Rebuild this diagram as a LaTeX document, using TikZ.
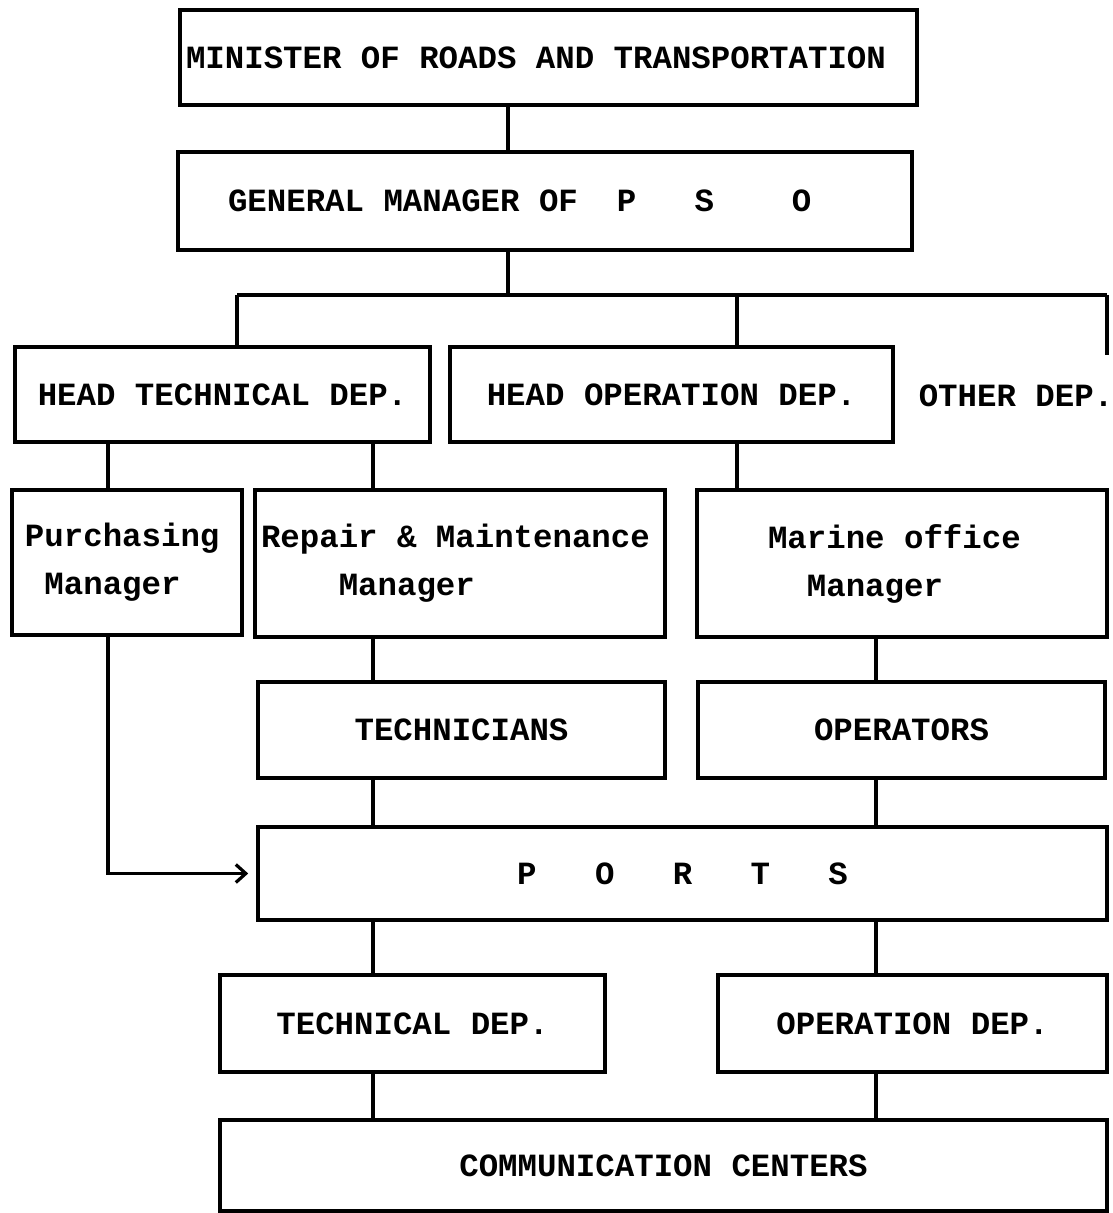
\documentclass[tikz,border=0pt]{standalone}
\usepackage{fontspec}
\setmonofont{Liberation Mono}
\usepackage{tikz}
\usetikzlibrary{arrows.meta}
\tikzstyle{orgbox} = [draw=black, line width=1.8pt, rectangle, inner sep=0pt, align=center, font=\ttfamily\bfseries\fontsize{16.2}{24}\selectfont]
\tikzstyle{link} = [draw=black, line width=1.6pt]

\begin{document}
\begin{tikzpicture}[x=0.5pt, y=-0.5pt]
	\useasboundingbox (0,0) rectangle (1112,1213);
	% columns and rows of the connectors
	\coordinate (c1) at (108,0);
	\coordinate (c2) at (237,0);
	\coordinate (c3) at (373,0);
	\coordinate (c4) at (508,0);
	\coordinate (c5) at (737,0);
	\coordinate (c6) at (876,0);
	\coordinate (c7) at (1107,0);
	\coordinate (bus) at (0,295);
	\coordinate (otherend) at (0,355);

	\node [orgbox, minimum width=368.5pt, minimum height=47.5pt] (minister) at (548.5,57.5) {\makebox[362.5pt][l]{MINISTER OF ROADS AND TRANSPORTATION}};
	\node [orgbox, minimum width=367pt, minimum height=49pt] (gm) at (545,201) {\makebox[317pt][l]{GENERAL MANAGER OF~~P~~~S~~~~O}};

	\node [orgbox, minimum width=207.5pt, minimum height=47.5pt] (headtech) at (222.5,394.5) {HEAD TECHNICAL DEP.};
	\node [orgbox, minimum width=221.5pt, minimum height=47.5pt] (headop) at (671.5,394.5) {HEAD OPERATION DEP.};
	\node [font=\ttfamily\bfseries\fontsize{16.2}{24}\selectfont, inner sep=0pt] (other) at (1016,396) {OTHER DEP.};

	\node [orgbox, minimum width=115pt, minimum height=72.5pt] (purch) at (127,562.5) {\makebox[102pt][l]{Purchasing}\\\makebox[102pt][l]{~Manager}};
	\node [orgbox, minimum width=205pt, minimum height=73.5pt] (repair) at (460,563.5) {\makebox[199pt][l]{Repair \& Maintenance}\\\makebox[199pt][l]{~~~~Manager}};
	\node [orgbox, minimum width=205pt, minimum height=73.5pt] (marine) at (902,563.5) {\makebox[134pt][l]{Marine office}\\\makebox[134pt][l]{~~Manager}};

	\node [orgbox, minimum width=203.5pt, minimum height=48pt] (tech) at (461.5,730) {TECHNICIANS};
	\node [orgbox, minimum width=203.5pt, minimum height=48pt] (oper) at (901.5,730) {OPERATORS};

	\node [orgbox, minimum width=424.5pt, minimum height=46.5pt] (ports) at (682.5,873.5) {P~~~O~~~R~~~T~~~S};

	\node [orgbox, minimum width=192.5pt, minimum height=48.5pt] (techdep) at (412.5,1023.5) {TECHNICAL DEP.};
	\node [orgbox, minimum width=194.5pt, minimum height=48.5pt] (opdep) at (912.5,1023.5) {OPERATION DEP.};

	\node [orgbox, minimum width=443.5pt, minimum height=45.5pt] (comm) at (663.5,1165.5) {COMMUNICATION CENTERS};

	% connectors
	\draw [link] (minister.south -| c4) -- (gm.north -| c4);
	\draw [link] (gm.south -| c4) -- (c4 |- bus);
	\draw [link] (c2 |- bus) -- (c7 |- bus);
	\draw [link] (c2 |- bus) -- (headtech.north -| c2);
	\draw [link] (c5 |- bus) -- (headop.north -| c5);
	\draw [link] (c7 |- bus) -- (c7 |- otherend);
	\draw [link] (headtech.south -| c1) -- (purch.north -| c1);
	\draw [link] (headtech.south -| c3) -- (repair.north -| c3);
	\draw [link] (headop.south -| c5) -- (marine.north -| c5);
	\draw [link] (repair.south -| c3) -- (tech.north -| c3);
	\draw [link] (marine.south -| c6) -- (oper.north -| c6);
	\draw [link] (tech.south -| c3) -- (ports.north -| c3);
	\draw [link] (oper.south -| c6) -- (ports.north -| c6);
	\draw [link, -{Straight Barb[length=5pt,width=9pt]}, shorten >=4pt] (purch.south -| c1) |- (ports.west);
	\draw [link] (ports.south -| c3) -- (techdep.north -| c3);
	\draw [link] (ports.south -| c6) -- (opdep.north -| c6);
	\draw [link] (techdep.south -| c3) -- (comm.north -| c3);
	\draw [link] (opdep.south -| c6) -- (comm.north -| c6);
\end{tikzpicture}
\end{document}
